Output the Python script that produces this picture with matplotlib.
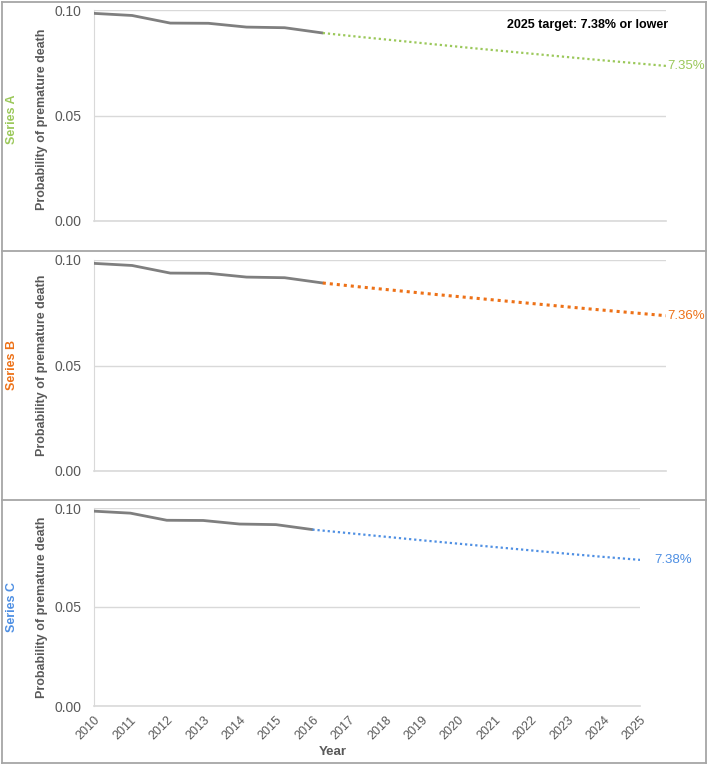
import matplotlib
matplotlib.use("Agg")
import matplotlib.pyplot as plt
from matplotlib.lines import Line2D

plt.rcParams['font.family'] = ['Liberation Sans', 'DejaVu Sans']

# data
years_hist = [2010, 2011, 2012, 2013, 2014, 2015, 2016]
prob_hist = [0.0984, 0.0974, 0.0938, 0.0937, 0.0919, 0.0916, 0.0891]

years_proj = [2016, 2017, 2018, 2019, 2020, 2021, 2022, 2023, 2024, 2025]
proj_a = [0.0891, 0.0872, 0.0854, 0.0836, 0.0818, 0.0801, 0.0784, 0.0767, 0.0751, 0.0735]
proj_b = [0.0891, 0.0872, 0.0854, 0.0836, 0.0819, 0.0802, 0.0785, 0.0768, 0.0752, 0.0736]
proj_c = [0.0891, 0.0873, 0.0855, 0.0837, 0.0820, 0.0803, 0.0786, 0.0769, 0.0753, 0.0738]

series_names = ['Series A', 'Series B', 'Series C']
end_labels = ['7.35%', '7.36%', '7.38%']
series_colors = ['#9BC85A', '#ED7117', '#4E8FE3']
y_ticks = [0.0, 0.05, 0.10]
tick_labels = ['0.00', '0.05', '0.10']

W, H = 709, 766
fig = plt.figure(figsize=(W / 100, H / 100), dpi=100)

def fx(x):
    return x / W

def fy(y):
    return 1 - y / H

# panel boxes in pixels: left, right, top, bottom of the plot area
boxes = [(94, 666, 10, 221), (94, 666, 260, 471), (94, 640, 508, 706)]
label_centre = [119, 365, 607]
proj_all = [proj_a, proj_b, proj_c]
dot_width = [1.6, 2.2, 1.6]
end_offset = [1, 1, 10]

grey_txt = '#595959'

for i in range(3):
    l, r, t, b = boxes[i]
    ax = fig.add_axes([fx(l), fy(b), fx(r) - fx(l), fy(t) - fy(b)])
    ax.plot(years_hist, prob_hist, color='#7F7F7F', lw=2.0, solid_capstyle='round', zorder=3)
    ax.plot(years_proj, proj_all[i], color=series_colors[i], lw=dot_width[i],
            linestyle=(0, (1, 1.3)), zorder=3)
    ax.set_xlim(2010, 2025)
    ax.set_ylim(0, 0.10)
    ax.set_yticks(y_ticks)
    ax.set_yticklabels(tick_labels, color=grey_txt, fontsize=10)
    ax.grid(axis='y', color='#D9D9D9', lw=1)
    ax.set_axisbelow(True)
    for side in ['top', 'right']:
        ax.spines[side].set_visible(False)
    ax.spines['left'].set_color('#D9D9D9')
    ax.spines['bottom'].set_color('#D9D9D9')
    ax.spines['bottom'].set_linewidth(1.2)
    ax.tick_params(axis='y', length=0, pad=9)
    ax.tick_params(axis='x', length=0)

    if i < 2:
        ax.set_xticks([])
    else:
        ax.set_xticks(range(2010, 2026))
        ax.set_xticklabels([str(y) for y in range(2010, 2026)], rotation=45,
                           ha='right', va='top', rotation_mode='anchor',
                           color=grey_txt, fontsize=9)
        ax.tick_params(axis='x', pad=6)

    # end value label
    ax.annotate(end_labels[i], xy=(years_proj[-1], proj_all[i][-1]),
                xytext=(end_offset[i], 0), textcoords='offset points',
                ha='left', va='center', color=series_colors[i], fontsize=9.5,
                annotation_clip=False)

    fig.text(fx(42), fy(label_centre[i]), 'Probability of premature death',
             rotation=90, ha='center', va='center', color=grey_txt,
             fontsize=9, fontweight='bold')
    fig.text(fx(12), fy(label_centre[i]), series_names[i], rotation=90,
             ha='center', va='center', color=series_colors[i],
             fontsize=9, fontweight='bold')

fig.text(fx(668), fy(25), '2025 target: 7.38% or lower', ha='right', va='center',
         color='black', fontsize=9, fontweight='bold')
fig.text(fx(333), fy(752), 'Year', ha='center', va='center', color=grey_txt,
         fontsize=9.5, fontweight='bold')

# outer frame and panel separators
frame = '#A6A6A6'
for (x0, y0, x1, y1) in [(2, 2, 706, 2), (2, 763, 706, 763), (2, 2, 2, 763),
                         (706, 2, 706, 763), (2, 251, 706, 251), (2, 500, 706, 500)]:
    fig.add_artist(Line2D([fx(x0), fx(x1)], [fy(y0), fy(y1)], color=frame, lw=1.3,
                          transform=fig.transFigure))

fig.savefig('out.png', dpi=100)
